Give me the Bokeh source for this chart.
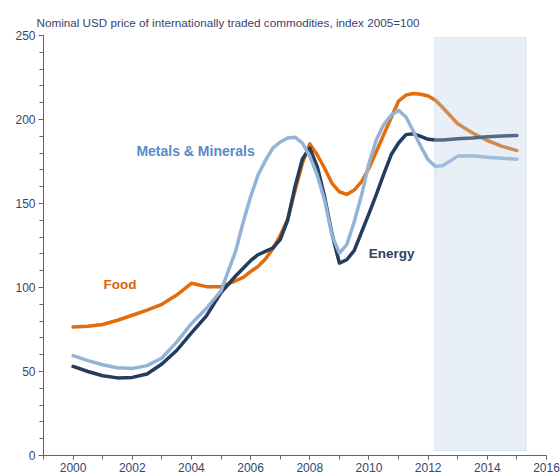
from bokeh.plotting import figure
from bokeh.models import FixedTicker, Range1d, Label, BoxAnnotation
from bokeh.embed import file_html
from bokeh.resources import INLINE

# ---- data ----
years = [2000, 2000.5, 2001, 2001.5, 2002, 2002.5, 2003, 2003.5, 2004, 2004.5,
         2005, 2005.5, 2005.75, 2006, 2006.25, 2006.5, 2006.75, 2007, 2007.25,
         2007.5, 2007.75, 2008, 2008.25, 2008.5, 2008.75, 2009, 2009.25, 2009.5,
         2009.75, 2010, 2010.25, 2010.5, 2010.75, 2011, 2011.25, 2011.5, 2011.75,
         2012, 2012.25, 2012.5, 2013, 2013.5, 2014, 2014.5, 2015]

food = [76.5, 77, 78, 80.5, 83.5, 86.5, 90, 95.5, 102.5, 100.5,
        100.5, 104, 106, 109.5, 112.5, 117, 123, 131, 140.5,
        157.5, 174, 185.5, 179, 171, 162, 157, 155.4, 158,
        163, 171, 181, 191, 201, 211, 214.5, 215.5, 215,
        214, 211.5, 207, 197.5, 192, 187.5, 184, 181.5]

energy = [53, 50, 47.5, 46.2, 46.5, 48.5, 54.5, 62.5, 73, 83,
          97, 107, 111.5, 116, 119.5, 121.5, 123.5, 128.5, 140,
          160, 176.5, 183, 172, 154, 132, 114.5, 116.5, 122,
          133, 144, 155.5, 167.5, 179, 186, 191, 191.5, 190,
          188.2, 187.8, 187.8, 188.5, 189, 189.8, 190.2, 190.5]

metals = [59.5, 56.5, 54, 52.2, 51.8, 53.5, 58, 67.5, 78.5, 87.5,
          98, 122, 139, 154, 167, 175.5, 183, 186.6, 189,
          189.5, 186, 178, 167, 152, 131, 120.5, 125.5, 139,
          155, 174, 188, 197, 202.5, 205.5, 201.5, 193, 184,
          176, 172, 172.6, 178.2, 178.4, 177.5, 177, 176.4]

series_names = ["Food", "Energy", "Metals & Minerals"]
x_tick_years = list(range(2000, 2017, 2))
x_minor_years = list(range(1999, 2017))
y_ticks = [0, 50, 100, 150, 200, 250]
y_minor = list(range(0, 251, 10))
title_text = "Nominal USD price of internationally traded commodities, index 2005=100"
forecast_start, forecast_end = 2012.22, 2015.31

# ---- styles ----
FOOD_C = "#E46C0A"
ENERGY_C = "#223D5E"
METALS_C = "#95B3D7"
TEXT_C = "#37456A"
AXIS_C = "#56647F"
FONT = "Liberation Sans"

p = figure(width=560, height=476, output_backend="svg", toolbar_location=None,
           x_range=Range1d(1999, 2016), y_range=Range1d(0, 250),
           min_border_left=43, min_border_right=14, min_border_top=35,
           min_border_bottom=21)
p.outline_line_color = None
p.xgrid.visible = False
p.ygrid.visible = False

p.title.text = title_text
p.title.align = "left"
p.title.offset = -7
p.title.text_font = FONT
p.title.text_font_size = "11.7px"
p.title.text_font_style = "normal"
p.title.text_color = TEXT_C
p.title.standoff = 13

for ax in (p.xaxis[0], p.yaxis[0]):
    ax.axis_line_color = AXIS_C
    ax.major_tick_line_color = AXIS_C
    ax.minor_tick_line_color = AXIS_C
    ax.major_label_text_font = FONT
    ax.major_label_text_font_size = "12px"
    ax.major_label_text_color = TEXT_C
    ax.major_tick_in = 0
    ax.minor_tick_in = 0

p.yaxis.ticker = FixedTicker(ticks=y_ticks, minor_ticks=y_minor)
p.yaxis.major_tick_out = 5
p.yaxis.minor_tick_out = 4
p.yaxis.major_label_standoff = 3

p.xaxis.ticker = FixedTicker(ticks=x_tick_years, minor_ticks=x_minor_years)
p.xaxis.major_tick_out = 4
p.xaxis.minor_tick_out = 4
p.xaxis.major_label_standoff = 3

p.line(years, food, line_color=FOOD_C, line_width=3.5, line_cap="round", line_join="round")
p.line(years, energy, line_color=ENERGY_C, line_width=3.5, line_cap="round", line_join="round")
p.line(years, metals, line_color=METALS_C, line_width=3.5, line_cap="round", line_join="round")

p.add_layout(BoxAnnotation(left=forecast_start, right=forecast_end, bottom=3, top=248.7,
                           fill_color="#B8CCE4", fill_alpha=0.32,
                           line_color="#9BB7DA", line_width=1))

lab_style = dict(text_font=FONT, text_font_size="13.5px", text_font_style="bold",
                 text_baseline="middle", text_align="left")
p.add_layout(Label(x=2001.03, y=101.8, text=series_names[0], text_color="#D9650E", **lab_style))
p.add_layout(Label(x=2009.99, y=120, text=series_names[1], text_color="#2E4262", **lab_style))
p.add_layout(Label(x=2002.14, y=181.5, text=series_names[2], text_color="#5A8AC6",
                   **dict(lab_style, text_font_size="14px")))

open("out.html", "w").write(file_html(p, INLINE))
